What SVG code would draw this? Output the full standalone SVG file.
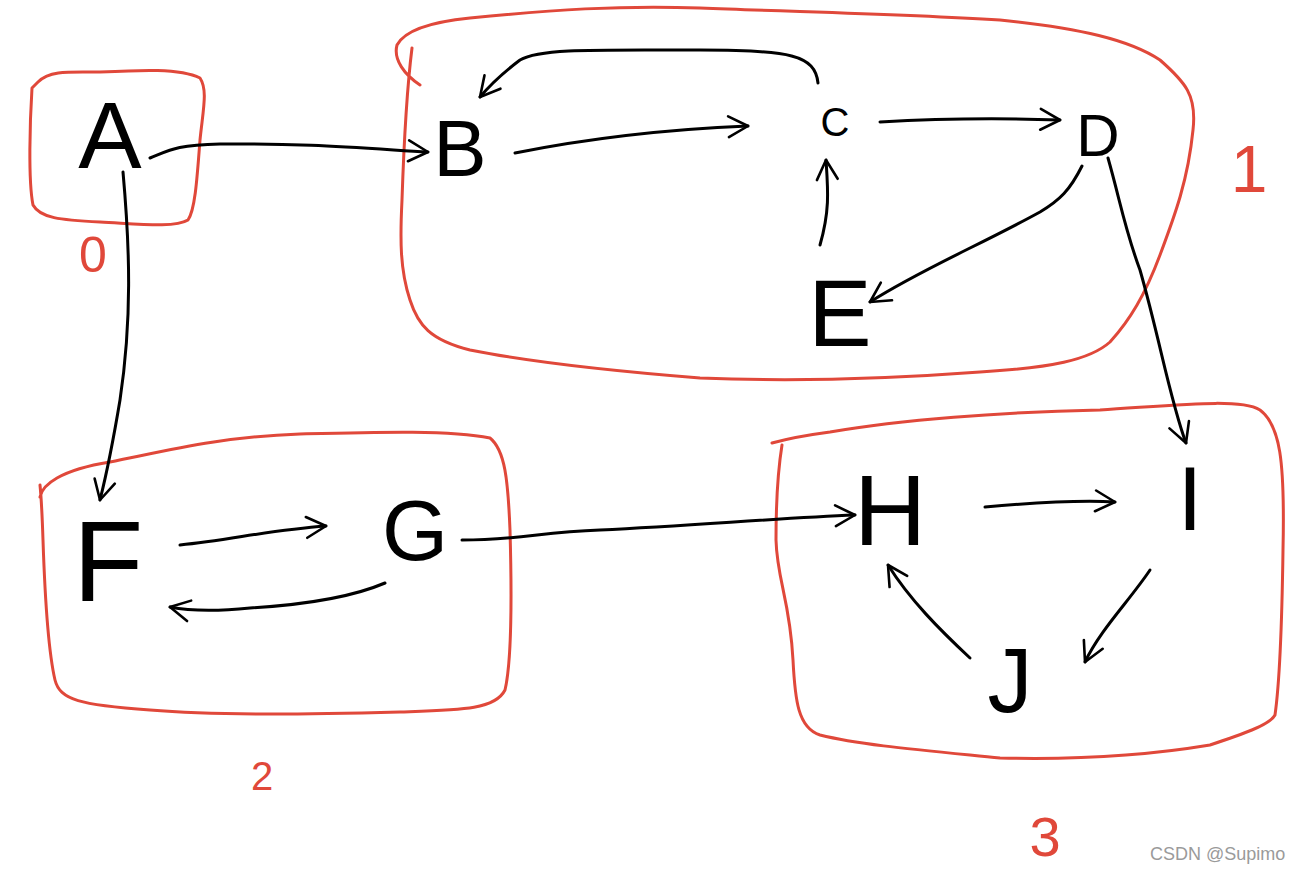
<svg xmlns="http://www.w3.org/2000/svg" width="1303" height="873" viewBox="0 0 1303 873">
<style>
.box{fill:none;stroke:#e0483a;stroke-width:3;stroke-linecap:round;stroke-linejoin:round}
.lbl{fill:#e0483a;font-family:"Liberation Sans",Arial,sans-serif;text-anchor:middle}
.nd{fill:#000;font-family:"Liberation Sans",Arial,sans-serif;text-anchor:middle}
.e{fill:none;stroke:#000;stroke-width:3;stroke-linecap:round;marker-end:url(#ah)}
</style>
<defs>
<marker id="ah" viewBox="0 0 20 20" refX="18" refY="10" markerWidth="26" markerHeight="26" markerUnits="userSpaceOnUse" orient="auto">
<path d="M3,2 L18,10 L3,18" fill="none" stroke="#000" stroke-width="2" stroke-linecap="round" stroke-linejoin="round"/>
</marker>
</defs>
<rect width="1303" height="873" fill="#fff"/>
<g id="groups">
<g id="group0">
<path class="box" d="M38,82 C50,70 70,72 100,72 C140,70 180,68 200,78 C208,90 203,110 200,140 C197,180 195,210 188,220 C175,228 140,224 100,222 C60,220 40,218 33,205 C28,180 30,120 32,88 Z"/>
<text class="lbl" x="93" y="272" font-size="50">0</text>
</g>
<g id="group1">
<path class="box" d="M420,85 C405,75 393,60 397,45 C405,30 430,22 470,18 C550,10 620,5 700,8 C800,12 900,14 1000,20 C1080,28 1130,40 1160,60 C1185,82 1197,95 1193,130 C1188,180 1175,215 1160,255 C1145,295 1130,320 1110,342 C1090,360 1050,368 980,372 C900,378 800,382 700,378 C600,370 520,360 470,350 C430,340 418,325 410,300 C400,270 400,240 402,200 C404,140 408,80 412,48"/>
<text class="lbl" x="1249" y="192" font-size="66">1</text>
</g>
<g id="group2">
<path class="box" d="M40,497 C42,485 60,470 110,462 C170,450 220,437 300,434 C380,432 450,430 490,438 C505,450 508,480 510,530 C512,600 512,660 505,690 C495,710 460,710 400,712 C320,714 220,716 150,710 C80,705 60,700 55,680 C48,650 45,600 43,540 C42,510 41,495 40,485"/>
<text class="lbl" x="262" y="790" font-size="40">2</text>
</g>
<g id="group3">
<path class="box" d="M772,443 C790,438 800,436 830,432 C900,420 1000,412 1100,410 C1180,405 1240,398 1260,410 C1280,425 1285,460 1283,550 C1282,620 1280,680 1275,715 C1270,725 1240,735 1210,745 C1150,755 1080,760 1000,758 C920,750 860,745 820,735 C798,728 795,700 793,660 C790,600 777,580 776,540 C776,500 778,470 782,445"/>
<text class="lbl" x="1045" y="856" font-size="56">3</text>
</g>
</g>
<g id="connectors">
<path class="e" d="M150,158 C170,150 175,145 220,144 C300,143 360,148 428,152"/>
<path class="e" d="M123,172 C130,250 132,320 120,400 C110,460 105,480 100,500"/>
<path class="e" d="M515,153 C580,140 650,130 748,126"/>
<path class="e" d="M818,83 C815,55 790,50 700,50 C600,50 540,48 520,60 C500,75 490,85 480,97"/>
<path class="e" d="M880,122 C950,118 1000,118 1060,120"/>
<path class="e" d="M1082,166 C1070,190 1060,200 1040,212 C980,245 920,270 870,302"/>
<path class="e" d="M820,245 C830,210 828,190 826,160"/>
<path class="e" d="M1108,158 C1120,200 1125,230 1140,270 C1160,340 1170,400 1186,443"/>
<path class="e" d="M180,545 C230,540 270,530 326,526"/>
<path class="e" d="M385,583 C350,598 300,605 250,608 C210,612 185,610 170,607"/>
<path class="e" d="M462,540 C520,540 540,532 600,530 C700,525 780,518 855,515"/>
<path class="e" d="M985,507 C1030,503 1080,500 1115,502"/>
<path class="e" d="M1150,570 C1130,600 1100,630 1085,662"/>
<path class="e" d="M970,658 C940,630 910,600 888,565"/>
</g>
<g id="nodeA"><text class="nd" x="110" y="168" font-size="95">A</text></g>
<g id="nodeB"><text class="nd" x="460" y="176" font-size="80">B</text></g>
<g id="nodeC"><text class="nd" x="835" y="136" font-size="40">C</text></g>
<g id="nodeD"><text class="nd" x="1098" y="156" font-size="60">D</text></g>
<g id="nodeE"><text class="nd" x="840" y="346" font-size="95">E</text></g>
<g id="nodeF"><text class="nd" x="108" y="601" font-size="115">F</text></g>
<g id="nodeG"><text class="nd" x="415" y="560" font-size="85">G</text></g>
<g id="nodeH"><text class="nd" x="890" y="545" font-size="100">H</text></g>
<g id="nodeI"><text class="nd" x="1190" y="530" font-size="90">I</text></g>
<g id="nodeJ"><text class="nd" x="1010" y="712" font-size="90">J</text></g>
<text x="1150" y="860" font-family="'Liberation Sans',Arial,sans-serif" font-size="18" fill="#9a9a9a">CSDN @Supimo</text>
</svg>
